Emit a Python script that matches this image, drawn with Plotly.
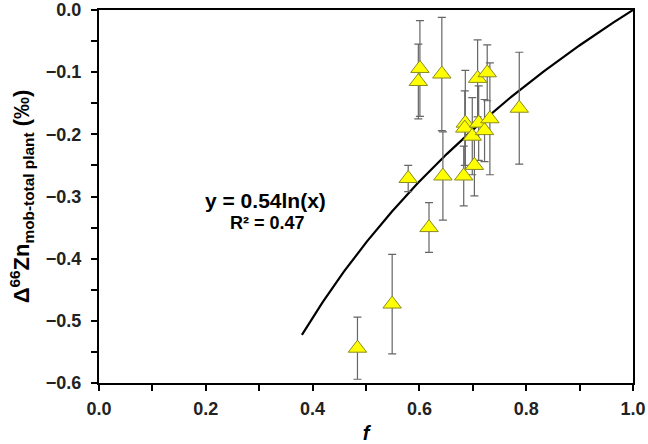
import numpy as np
import plotly.graph_objects as go

# data
f_vals = [0.484, 0.549, 0.579, 0.601, 0.598, 0.642, 0.618, 0.644, 0.683, 0.686,
          0.685, 0.699, 0.703, 0.709, 0.711, 0.722, 0.727, 0.732, 0.787]
delta_vals = [-0.544, -0.473, -0.271, -0.094, -0.115, -0.103, -0.350, -0.267, -0.267, -0.182,
              -0.190, -0.203, -0.250, -0.110, -0.182, -0.194, -0.101, -0.175, -0.158]
err_vals = [0.050, 0.080, 0.021, 0.077, 0.060, 0.091, 0.040, 0.071, 0.048, 0.085,
            0.060, 0.062, 0.049, 0.062, 0.060, 0.050, 0.045, 0.090, 0.090]

fit_coef = 0.54
fit_xmin, fit_xmax = 0.38, 1.0
fit_x = np.linspace(fit_xmin, fit_xmax, 200)
fit_y = fit_coef * np.log(fit_x)

font = "Liberation Sans, Arial, sans-serif"

fig = go.Figure()
fig.add_trace(go.Scatter(x=fit_x, y=fit_y, mode="lines",
                         line=dict(color="black", width=2.2), showlegend=False,
                         hoverinfo="skip"))
fig.add_trace(go.Scatter(
    x=f_vals, y=delta_vals, mode="markers", showlegend=False,
    marker=dict(symbol="triangle-up", size=16, color="#FFFF00",
                line=dict(color="#8a8a20", width=1)),
    error_y=dict(type="data", array=err_vals, visible=True,
                 color="#666666", thickness=1.2, width=4),
))

fig.add_annotation(x=0.312, y=-0.306, xref="x", yref="y", showarrow=False,
                   text="<b>y = 0.54ln(x)</b>", font=dict(family=font, size=21, color="black"))
fig.add_annotation(x=0.315, y=-0.343, xref="x", yref="y", showarrow=False,
                   text="<b>R² = 0.47</b>", font=dict(family=font, size=18, color="black"))

tick_common = dict(showline=True, linecolor="black", linewidth=2, mirror=True,
                   ticks="outside", ticklen=6, tickwidth=1.5, tickcolor="black",
                   showgrid=False, zeroline=False, tickformat=".1f", automargin=False,
                   tickfont=dict(family=font, size=18, color="#222", weight="bold"))

fig.update_layout(
    width=648, height=444,
    margin=dict(l=99, r=15, t=10, b=61),
    paper_bgcolor="white", plot_bgcolor="white",
    font=dict(family=font, color="black"),
    xaxis=dict(range=[0, 1], dtick=0.2, ticklabelstandoff=2,
               minor=dict(dtick=0.1, ticks="outside", ticklen=6, tickwidth=1.5, tickcolor="black"),
               title=dict(text="<b><i>f</i></b>", font=dict(family=font, size=20, color="black"),
                          standoff=9),
               **tick_common),
    yaxis=dict(range=[-0.6, 0], dtick=0.1, ticklabelstandoff=6,
               minor=dict(dtick=0.05, ticks="outside", ticklen=6, tickwidth=1.5, tickcolor="black"),
               title=dict(text="<b>Δ<sup>66</sup>Zn<sub>mob-total plant</sub> (‰)</b>",
                          font=dict(family=font, size=22, color="black"), standoff=10),
               **tick_common),
)

fig.write_html("out.html", config={"displayModeBar": False},
               post_script="document.body.style.margin='0';")
